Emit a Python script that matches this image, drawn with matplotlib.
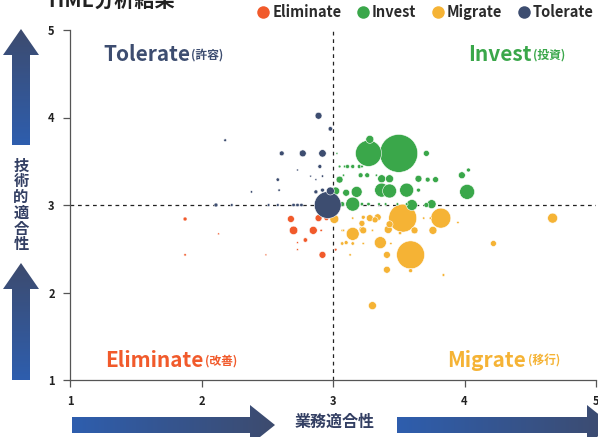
import matplotlib
matplotlib.use("Agg")
import matplotlib.pyplot as plt
import numpy as np
from matplotlib.patches import Polygon
from matplotlib.lines import Line2D

plt.rcParams['font.family'] = ['Noto Sans CJK JP', 'DejaVu Sans']

# ---------------- data ----------------
categories = ["Eliminate", "Invest", "Migrate", "Tolerate"]
colors = {"Eliminate": "#F15A2B", "Invest": "#3AA74A",
          "Migrate": "#F5B335", "Tolerate": "#3D4D70"}

tolerate_x = [2.89, 2.98, 2.18, 2.61, 2.77, 2.92, 2.90, 2.73, 2.58, 2.83, 2.87, 2.92, 2.59, 2.38,
              2.87, 2.92, 2.11, 2.23, 2.51, 2.58, 2.70, 2.73, 2.76, 2.96, 2.98]
tolerate_y = [4.02, 3.87, 3.74, 3.59, 3.59, 3.59, 3.44, 3.40, 3.29, 3.33, 3.29, 3.33, 3.17, 3.15,
              3.15, 3.17, 3.00, 3.00, 3.00, 3.00, 3.00, 3.00, 3.00, 3.00, 3.16]
tolerate_v = [12, 5, 2, 6, 12, 14, 4, 1, 3, 1, 1, 1.5, 1.5, 1.5,
              4, 4, 4, 2, 2, 2, 3, 3, 3, 180, 16]

eliminate_x = [1.875, 2.68, 2.89, 2.95, 2.70, 2.85, 2.91, 2.13, 2.79, 2.73, 2.73, 1.875, 2.49, 2.92, 3.02]
eliminate_y = [2.84, 2.84, 2.85, 2.85, 2.71, 2.71, 2.71, 2.67, 2.60, 2.57, 2.49, 2.43, 2.43, 2.43, 2.49]
eliminate_v = [4, 12, 12, 6, 18, 16, 1.5, 1, 5, 1, 1, 1.5, 1, 12, 2]

invest_x = [3.50, 3.27, 3.28, 3.71, 3.03, 3.05, 3.09, 3.11, 3.15, 3.20, 3.22, 3.21, 3.26, 3.33,
            3.37, 3.43, 3.08, 3.05, 3.65, 3.72, 3.78, 3.98, 4.03, 4.02, 3.18, 3.10, 3.37, 3.43,
            3.56, 3.65, 3.02, 3.15, 3.02, 3.07, 3.22, 3.27, 3.35, 3.40, 3.60, 3.75, 3.71, 3.49, 3.56]
invest_y = [3.59, 3.59, 3.75, 3.59, 3.59, 3.44, 3.44, 3.44, 3.44, 3.44, 3.44, 3.34, 3.34, 3.34,
            3.30, 3.30, 3.34, 3.29, 3.30, 3.29, 3.29, 3.34, 3.40, 3.15, 3.15, 3.14, 3.17, 3.16,
            3.17, 3.17, 3.16, 3.01, 3.01, 3.01, 3.01, 3.01, 3.01, 3.01, 3.00, 3.01, 3.00, 3.01, 3.01]
invest_v = [360, 170, 16, 9, 1, 2, 2, 4, 4, 4, 2, 6, 6, 1.5,
            16, 16, 1.5, 12, 12, 6, 9, 12, 4, 56, 30, 12, 49, 49,
            49, 4, 16, 49, 6, 6, 3, 3, 2, 2, 30, 20, 6, 2, 2]

migrate_x = [3.53, 3.82, 3.59, 3.01, 3.28, 3.34, 3.32, 3.23, 3.22, 3.22, 3.15, 3.23, 3.42, 3.43,
             3.51, 3.62, 3.76, 3.36, 3.41, 3.41, 3.59, 3.07, 3.10, 3.15, 3.07, 3.08, 3.13, 3.30,
             3.84, 3.69, 3.74, 3.15, 3.30, 3.23, 3.44, 3.95, 4.67, 4.22]
migrate_y = [2.85, 2.85, 2.43, 2.84, 2.85, 2.86, 2.83, 2.86, 2.79, 2.72, 2.67, 2.71, 2.72, 2.78,
             2.68, 2.71, 2.71, 2.57, 2.43, 2.26, 2.25, 2.56, 2.57, 2.56, 2.71, 2.71, 2.43, 1.85,
             2.20, 2.85, 2.85, 2.85, 2.71, 2.56, 2.56, 2.80, 2.85, 2.56]
migrate_v = [196, 100, 196, 20, 12, 12, 9, 4, 9, 9, 42, 12, 16, 12,
             3, 12, 16, 36, 12, 12, 4, 3, 4, 3, 1.5, 1.5, 1.5, 16,
             2, 1.5, 1.5, 1.5, 1.5, 1.5, 1.5, 1.5, 25, 9]

series = {
    "Tolerate": (tolerate_x, tolerate_y, tolerate_v),
    "Eliminate": (eliminate_x, eliminate_y, eliminate_v),
    "Invest": (invest_x, invest_y, invest_v),
    "Migrate": (migrate_x, migrate_y, migrate_v),
}

x_ticks = [1, 2, 3, 4, 5]
y_ticks = [1, 2, 3, 4, 5]
x_label = "業務適合性"
y_label = "技術的適合性"
title = "TIME分析結果"
quadrants = [
    ("Tolerate", "(許容)", 1.25, 4.72),
    ("Invest", "(投資)", 4.03, 4.72),
    ("Eliminate", "(改善)", 1.27, 1.22),
    ("Migrate", "(移行)", 3.87, 1.22),
]

# ---------------- figure ----------------
W, H = 598, 437
fig = plt.figure(figsize=(W / 100, H / 100), dpi=100)
fig.patch.set_facecolor("white")

ax = fig.add_axes([70 / W, (H - 380) / H, (596 - 70) / W, (380 - 30) / H])
ax.set_facecolor("none")
ax.set_xlim(1, 5)
ax.set_ylim(1, 5)
ax.set_xticks(x_ticks)
ax.set_yticks(y_ticks)
for s in ["top", "right"]:
    ax.spines[s].set_visible(False)
for s in ["left", "bottom"]:
    ax.spines[s].set_color("#555555")
    ax.spines[s].set_linewidth(0.9)
ax.tick_params(axis="both", direction="out", length=5, width=0.9, color="#555555",
               labelsize=8, labelcolor="#222222", pad=6)
for lbl in ax.get_xticklabels() + ax.get_yticklabels():
    lbl.set_fontweight("bold")

# dashed quadrant lines
ax.axvline(3, color="#222222", lw=0.9, ls=(0, (3, 3)), zorder=1)
ax.axhline(3, color="#222222", lw=0.9, ls=(0, (3, 3)), zorder=1)

k = 2.07  # area scale (pt^2 per value unit)
for name in ["Tolerate", "Eliminate", "Migrate", "Invest"]:
    xs, ys, vs = series[name]
    ax.scatter(xs, ys, s=np.array(vs) * k, color=colors[name], edgecolor="white",
               linewidth=0.4, zorder=3 if name != "Tolerate" else 4, clip_on=False)

# quadrant labels
for main, sub, qx, qy in quadrants:
    t = ax.text(qx, qy, main, color=colors[main], fontsize=15, fontweight="bold",
                ha="left", va="center", zorder=5)
    ax.annotate(sub, xy=(1.0, 0.0), xycoords=t, xytext=(1, 2.5), textcoords="offset points",
                color=colors[main], fontsize=8.5, fontweight="bold", ha="left", va="bottom")

# legend
handles = [Line2D([0], [0], marker="o", ls="none", markersize=9,
                  markerfacecolor=colors[c], markeredgecolor="none") for c in categories]
fig.legend(handles, categories, loc="upper right", bbox_to_anchor=(1.015, 1.02), ncol=4,
           frameon=False, handletextpad=0.1, columnspacing=1.0, handlelength=1.0,
           prop={"weight": "bold", "size": 10.5}, labelcolor="#2b2b2b")

# overlay in pixel coordinates
ov = fig.add_axes([0, 0, 1, 1], zorder=10)
ov.set_xlim(0, W)
ov.set_ylim(H, 0)
ov.axis("off")
ov.patch.set_alpha(0)

navy = np.array([0x3D, 0x4B, 0x6E]) / 255
blue = np.array([0x2E, 0x5E, 0xAE]) / 255


def grad_arrow(pts, bbox, vertical):
    poly = Polygon(pts, closed=True, facecolor="none", edgecolor="none")
    ov.add_patch(poly)
    n = 256
    t = np.linspace(0, 1, n)
    if vertical:
        cols = navy[None, :] * (1 - t[:, None]) + blue[None, :] * t[:, None]
        img = cols[:, None, :]
    else:
        cols = blue[None, :] * (1 - t[:, None]) + navy[None, :] * t[:, None]
        img = cols[None, :, :]
    x0, x1, y0, y1 = bbox
    im = ov.imshow(img, extent=(x0, x1, y1, y0), aspect="auto", interpolation="bilinear")
    im.set_clip_path(poly)
    ov.set_xlim(0, W)
    ov.set_ylim(H, 0)


def up_arrow(cx, ytip, ybot, hw=18, hl=26, sw=9):
    pts = [(cx, ytip), (cx + hw, ytip + hl), (cx + sw, ytip + hl), (cx + sw, ybot),
           (cx - sw, ybot), (cx - sw, ytip + hl), (cx - hw, ytip + hl)]
    grad_arrow(pts, (cx - hw, cx + hw, ytip, ybot), True)


def right_arrow(xl, xtip, cy, hw=20, hl=25, sw=8):
    pts = [(xtip, cy), (xtip - hl, cy - hw), (xtip - hl, cy - sw), (xl, cy - sw),
           (xl, cy + sw), (xtip - hl, cy + sw), (xtip - hl, cy + hw)]
    grad_arrow(pts, (xl, xtip, cy - hw, cy + hw), False)


up_arrow(21, 29, 145)
up_arrow(21, 263, 380)
right_arrow(72, 275, 425)
right_arrow(397, 612, 425)

ov.text(21, 205, "\n".join(y_label), ha="center", va="center", color="#333f63",
        fontsize=11, fontweight="bold", linespacing=0.98)
ov.text(335, 422, x_label, ha="center", va="center", color="#333f63",
        fontsize=11.5, fontweight="bold")
ov.text(45, 7, title, ha="left", va="baseline", color="#222222", fontsize=14.5, fontweight="bold")

fig.savefig("out.png", dpi=100, facecolor="white")
